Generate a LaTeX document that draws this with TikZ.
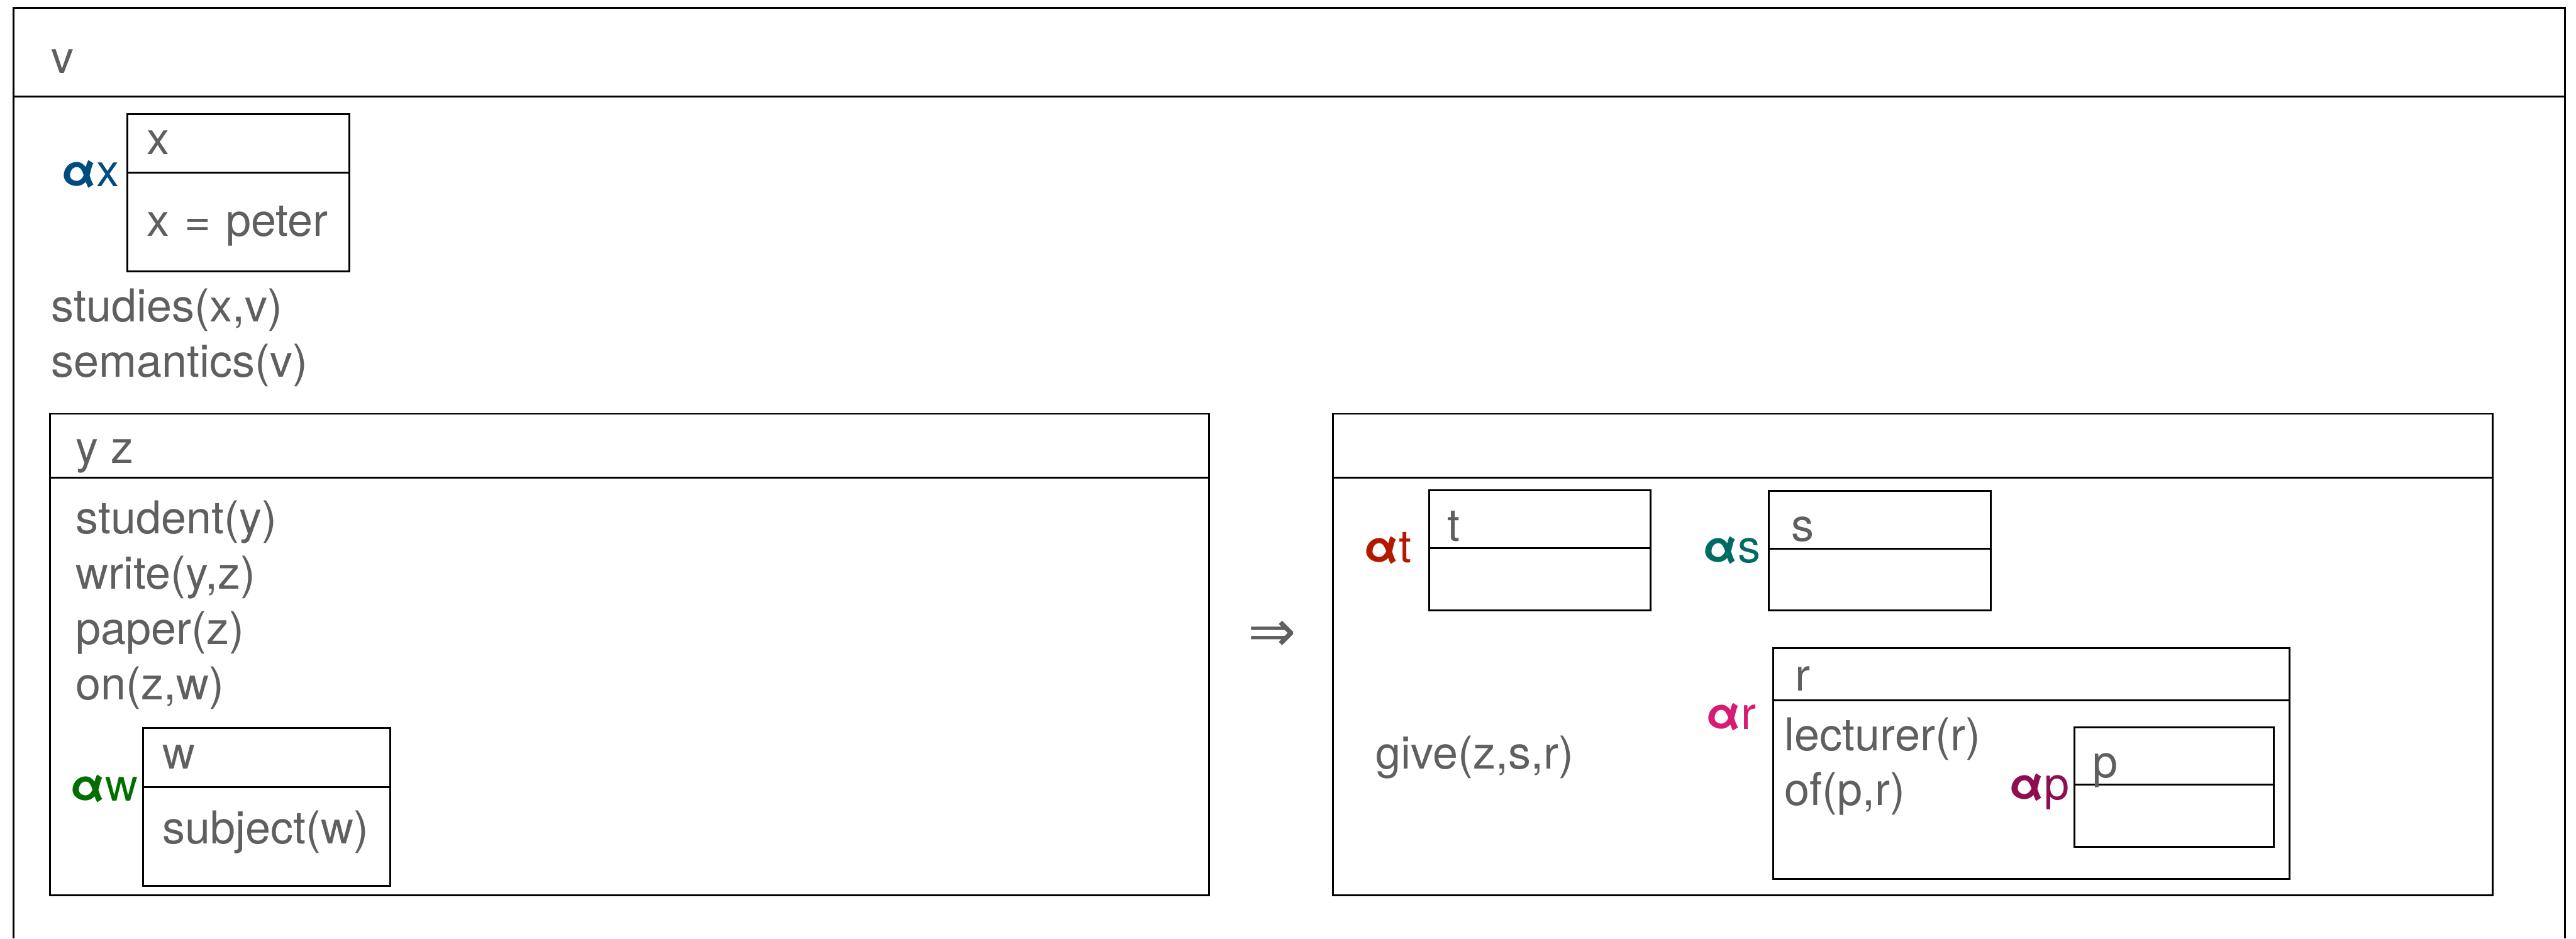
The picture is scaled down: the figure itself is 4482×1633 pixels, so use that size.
\documentclass[tikz,border=0pt]{standalone}
\usepackage{fontspec}
\setmainfont{TeX Gyre Heros}
\newfontfamily\symfont{DejaVu Sans}
\definecolor{txtgray}{HTML}{5F5F5F}
\definecolor{cx}{HTML}{004B7F}
\definecolor{cw}{HTML}{006F00}
\definecolor{ct}{HTML}{B21A00}
\definecolor{cs}{HTML}{006B64}
\definecolor{cr}{HTML}{D81B72}
\definecolor{cp}{HTML}{8E0E4F}
\tikzset{
  drsline/.style={draw=black, line width=0.8pt},
  txt/.style={anchor=base west, inner sep=0pt, outer sep=0pt, text=txtgray,
              font=\fontsize{19.7pt}{24pt}\selectfont},
  lbl/.style={txt, text=#1},
}
\newcommand{\al}{\textbf{α}}
% a DRS box: left, top, right, bottom, divider
\newcommand{\drsbox}[5]{%
  \draw[drsline] (#1,#2) rectangle (#3,#4);
  \draw[drsline] (#1,#5) -- (#3,#5);}
\begin{document}
\begin{tikzpicture}[x={(0.25pt,0)}, y={(0,-0.25pt)}]
\useasboundingbox (0,0) rectangle (4482,1633);

% outermost box, running past the lower edge
\draw[drsline] (24,1633) -- (24,14) -- (4463,14) -- (4463,1633);
\draw[drsline] (24,168) -- (4463,168);
\node[txt] (v) at (89,127) {v};

% x box
\node[lbl=cx] (ax) at (107,324) {\al x};
\drsbox{222}{199}{608}{472}{300}
\node[txt] (xh) at (255,269) {x};
\node[txt] (xc) at (255,411) {x\,\,=\,\,peter};
\node[txt] (studies) at (89,560) {studies(x,v)};
\node[txt] (sem) at (89,656) {semantics(v)};

% antecedent box
\drsbox{87}{720}{2104}{1558}{831}
\node[txt] (yz) at (132,806) {y z};
\node[txt] (student) at (132,928) {student(y)};
\node[txt] (write) at (132,1025) {write(y,z)};
\node[txt] (paper) at (132,1121) {paper(z)};
\node[txt] (on) at (132,1217) {on(z,w)};
\node[lbl=cw] (aw) at (122,1393) {\al w};
\drsbox{249}{1267}{679}{1541}{1369}
\node[txt] (wh) at (283,1338) {w};
\node[txt] (subj) at (283,1468) {subject(w)};

% implication
\node[inner sep=0pt, text=txtgray, font=\symfont\fontsize{25pt}{30pt}\selectfont] (impl) at (2213,1107) {⇒};

% consequent box
\drsbox{2319}{720}{4337}{1558}{831}
\node[lbl=ct] (at) at (2373,979) {\al t};
\drsbox{2487}{853}{2872}{1062}{954}
\node[txt] (th) at (2518,942) {t};
\node[lbl=cs] (as) at (2963,979) {\al s};
\drsbox{3078}{854}{3464}{1062}{955}
\node[txt] (sh) at (3117,942) {s};
\node[txt] (give) at (2394,1338) {give(z,s,r)};
\node[lbl=cr] (ar) at (2968,1269) {\al r};
\drsbox{3085}{1128}{3984}{1529}{1218}
\node[txt] (rh) at (3123,1202) {r};
\node[txt] (lect) at (3105,1306) {lecturer(r)};
\node[txt] (of) at (3105,1401) {of(p,r)};
\node[lbl=cp] (ap) at (3496,1391) {\al p};
\drsbox{3609}{1265}{3956}{1473}{1365}
\node[txt] (ph) at (3641,1353) {p};
\end{tikzpicture}
\end{document}
